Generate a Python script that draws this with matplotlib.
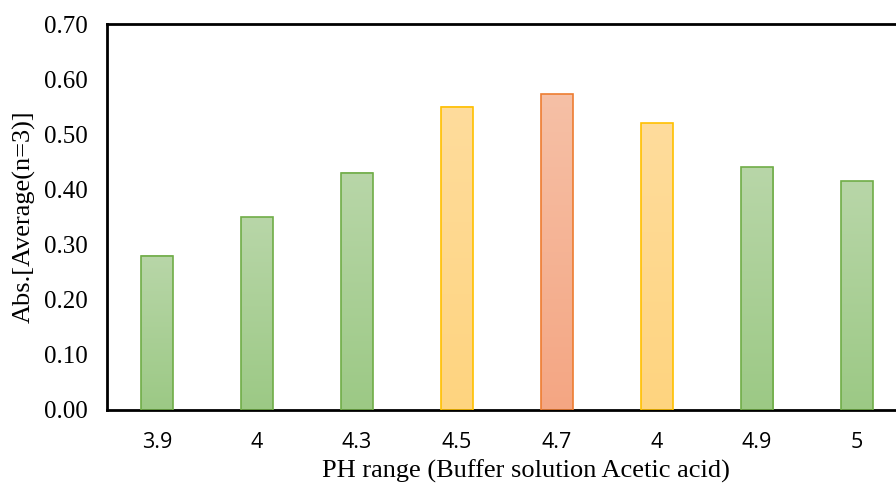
import numpy as np
import matplotlib.pyplot as plt
from matplotlib.colors import LinearSegmentedColormap

ph_labels = ["3.9", "4", "4.3", "4.5", "4.7", "4", "4.9", "5"]
absorbance = [0.28, 0.35, 0.43, 0.55, 0.573, 0.52, 0.44, 0.415]
bar_kind = ["g", "g", "g", "y", "o", "y", "g", "g"]

# (top colour, bottom colour, edge colour)
styles = {
    "g": ("#b8d6a8", "#9cc985", "#70ad47"),
    "y": ("#fedc9c", "#ffd47f", "#ffc000"),
    "o": ("#f6c0a6", "#f4a683", "#ed7d31"),
}

fig = plt.figure(figsize=(8.96, 4.83), dpi=100)
ax = fig.add_axes([107 / 896, 1 - 410 / 483, 800 / 896, 386 / 483])

x = np.arange(len(ph_labels))
width = 0.32
bars = ax.bar(x, absorbance, width=width, color="none", zorder=3)

for bar, kind in zip(bars, bar_kind):
    top, bottom, edge = styles[kind]
    cmap = LinearSegmentedColormap.from_list("grad", [bottom, top])
    grad = np.linspace(0, 1, 100).reshape(-1, 1)
    x0 = bar.get_x()
    h = bar.get_height()
    ax.imshow(grad, cmap=cmap, origin="lower", aspect="auto",
              extent=[x0, x0 + width, 0, h], zorder=2)
    bar.set_edgecolor(edge)
    bar.set_linewidth(1.2)

ax.set_xlim(-0.5, len(ph_labels) - 0.5)
ax.set_ylim(0, 0.70)
ax.set_yticks(np.arange(0, 0.71, 0.1))
ax.set_yticklabels([f"{v:.2f}" for v in np.arange(0, 0.71, 0.1)],
                   fontfamily="Liberation Serif", fontsize=18)
ax.set_xticks(x)
ax.set_xticklabels(ph_labels, fontfamily="Open Sans", fontsize=15.5)
ax.tick_params(length=0)
ax.tick_params(axis="x", pad=16)
ax.tick_params(axis="y", pad=14)

for s in ax.spines.values():
    s.set_linewidth(2)

ax.set_xlabel("PH range (Buffer solution Acetic acid)",
              fontfamily="Liberation Serif", fontsize=19)
ax.xaxis.set_label_coords(0.524, -0.128)
ax.set_ylabel("Abs.[Average(n=3)]", fontfamily="Liberation Serif",
              fontsize=19, labelpad=6)

fig.savefig("out.png", dpi=100)
